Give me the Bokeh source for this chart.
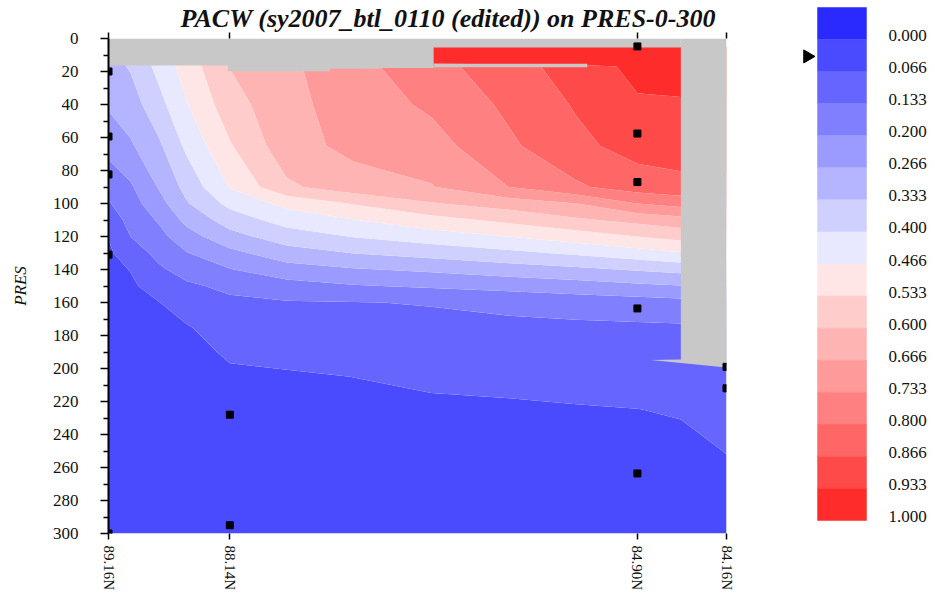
import math
import numpy as np
from bokeh.plotting import figure
from bokeh.models import Range1d, FixedTicker, LinearAxis, CustomLabelingPolicy
from bokeh.layouts import row
from bokeh.embed import file_html
from bokeh.resources import INLINE
from bokeh.core.properties import value

TITLE = "PACW (sy2007_btl_0110 (edited)) on PRES-0-300"

# stations along the section (distance in km from 89.16N)
station_names = ["89.16N", "88.14N", "84.90N", "84.16N"]
station_km = [0, 109, 475, 555]

# gridded PACW field (fraction), rows = pressure, columns = distance
grid_km = [0, 20, 45, 70, 109, 160, 220, 290, 360, 420, 475, 514, 555]
grid_pres = [5, 15, 17, 40, 65, 90, 100, 110, 120, 130, 140, 150, 160, 175, 190, 205, 225, 250, 300]

pacw_p005 = [0.307, 0.340, 0.420, 0.496, 0.602, 0.653, 0.711, 0.967, 0.967, 0.967, 0.973, 0.973, 0.973]
pacw_p015 = [0.307, 0.340, 0.420, 0.496, 0.602, 0.653, 0.711, 0.967, 0.967, 0.967, 0.973, 0.973, 0.973]
pacw_p017 = [0.307, 0.340, 0.420, 0.496, 0.602, 0.653, 0.711, 0.776, 0.841, 0.895, 0.953, 0.967, 0.967]
pacw_p040 = [0.275, 0.303, 0.377, 0.463, 0.572, 0.647, 0.697, 0.745, 0.814, 0.873, 0.925, 0.925, 0.925]
pacw_p065 = [0.222, 0.259, 0.321, 0.414, 0.527, 0.640, 0.685, 0.707, 0.789, 0.850, 0.893, 0.895, 0.895]
pacw_p090 = [0.156, 0.192, 0.271, 0.355, 0.471, 0.588, 0.637, 0.663, 0.734, 0.790, 0.833, 0.849, 0.849]
pacw_p100 = [0.128, 0.173, 0.241, 0.327, 0.419, 0.485, 0.538, 0.595, 0.632, 0.666, 0.734, 0.757, 0.757]
pacw_p110 = [0.098, 0.153, 0.207, 0.284, 0.365, 0.427, 0.465, 0.509, 0.549, 0.589, 0.620, 0.643, 0.643]
pacw_p120 = [0.069, 0.134, 0.179, 0.240, 0.310, 0.368, 0.403, 0.435, 0.468, 0.500, 0.534, 0.555, 0.555]
pacw_p130 = [0.057, 0.101, 0.151, 0.197, 0.249, 0.304, 0.335, 0.359, 0.385, 0.411, 0.440, 0.463, 0.463]
pacw_p140 = [0.050, 0.069, 0.123, 0.157, 0.197, 0.239, 0.261, 0.278, 0.301, 0.319, 0.340, 0.353, 0.353]
pacw_p150 = [0.045, 0.057, 0.093, 0.123, 0.147, 0.175, 0.195, 0.209, 0.223, 0.237, 0.253, 0.264, 0.264]
pacw_p160 = [0.041, 0.050, 0.065, 0.097, 0.121, 0.128, 0.131, 0.137, 0.151, 0.162, 0.171, 0.179, 0.179]
pacw_p175 = [0.037, 0.043, 0.053, 0.062, 0.097, 0.105, 0.110, 0.115, 0.118, 0.121, 0.123, 0.125, 0.127]
pacw_p190 = [0.033, 0.039, 0.045, 0.052, 0.073, 0.081, 0.088, 0.095, 0.100, 0.103, 0.105, 0.109, 0.123]
pacw_p205 = [0.032, 0.035, 0.040, 0.045, 0.059, 0.061, 0.067, 0.076, 0.081, 0.085, 0.089, 0.093, 0.113]
pacw_p225 = [0.030, 0.032, 0.035, 0.038, 0.048, 0.050, 0.052, 0.057, 0.059, 0.063, 0.066, 0.071, 0.097]
pacw_p250 = [0.029, 0.030, 0.031, 0.033, 0.040, 0.041, 0.043, 0.047, 0.047, 0.048, 0.048, 0.053, 0.068]
pacw_p300 = [0.027, 0.027, 0.028, 0.029, 0.030, 0.031, 0.032, 0.033, 0.033, 0.033, 0.033, 0.033, 0.040]

pacw_rows = [pacw_p005, pacw_p015, pacw_p017, pacw_p040, pacw_p065, pacw_p090, pacw_p100,
             pacw_p110, pacw_p120, pacw_p130, pacw_p140, pacw_p150, pacw_p160, pacw_p175,
             pacw_p190, pacw_p205, pacw_p225, pacw_p250, pacw_p300]

# regions without data (grey)
mask_top_km = [0, 107, 107, 199, 199, 244, 244, 292, 292, 514]
mask_top_pres = [16.4, 16.4, 19.8, 19.8, 18.4, 18.4, 17.9, 17.9, 5.5, 5.5]
mask_right_km = [514, 555, 555, 487, 514]
mask_right_pres = [0, 0, 199.4, 194.8, 194.5]
gap_km = [292, 430]
gap_pres = [15.3, 17.4]

# bottle sample positions
sample_km = [0, 0, 0, 0, 0, 109, 109, 475, 475, 475, 475, 475, 555, 555]
sample_pres = [20, 59.4, 82.4, 131, 300, 228, 295, 4.8, 57.6, 87, 163.6, 263.6, 199, 212]

# colour scale
levels = [-0.0667, 0.0, 0.0667, 0.1333, 0.2, 0.2667, 0.3333, 0.4, 0.4667, 0.5333,
          0.6, 0.6667, 0.7333, 0.8, 0.8667, 0.9333, 1.0]
level_labels = ["0.000", "0.066", "0.133", "0.200", "0.266", "0.333", "0.400", "0.466",
                "0.533", "0.600", "0.666", "0.733", "0.800", "0.866", "0.933", "1.000"]
palette = ["#2a2aff", "#4a4aff", "#6666ff", "#8080ff", "#9a9aff", "#b4b4ff", "#d0d0ff", "#e8e8ff",
           "#ffe6e6", "#ffcccc", "#ffb4b4", "#ff9a9a", "#ff8080", "#ff6666", "#ff4a4a", "#ff2c2c"]
marker_value = 0.035

pres_ticks = [0, 20, 40, 60, 80, 100, 120, 140, 160, 180, 200, 220, 240, 260, 280, 300]
pres_minor = [10, 30, 50, 70, 90, 110, 130, 150, 170, 190, 210, 230, 250, 270, 290]

GREY = "#c8c8c8"
SERIF = "Liberation Serif"
INK = "#111111"

p = figure(frame_width=618, frame_height=495,
           x_range=Range1d(0, 555), y_range=Range1d(300, 0),
           min_border_left=108, min_border_right=64, min_border_top=38, min_border_bottom=62,
           toolbar_location=None, output_backend="svg")
p.outline_line_color = None
p.grid.visible = False

z = np.array(pacw_rows)
cr = p.contour(x=grid_km, y=grid_pres, z=z, levels=levels, fill_color=palette, line_color=None)
fg = cr.fill_renderer.glyph
fg.line_color = fg.fill_color
fg.line_width = 0.8

p.varea(x=mask_top_km, y1=0, y2=mask_top_pres, fill_color=GREY)
p.patch(x=mask_right_km, y=mask_right_pres, fill_color=GREY, line_color=None)
p.quad(left=[gap_km[0]], right=[gap_km[1]], top=[gap_pres[0]], bottom=[gap_pres[1]],
       fill_color=GREY, line_color=None)

p.scatter(x=sample_km, y=sample_pres, marker="square", size=7, color="black")

# title
p.title.text = TITLE
p.title.text_font = SERIF
p.title.text_font_style = "bold italic"
p.title.text_font_size = "26px"
p.title.align = "left"
p.title.offset = 72
p.title.standoff = 0
p.title.text_color = INK

# y axis
ya = p.yaxis[0]
ya.ticker = FixedTicker(ticks=pres_ticks, minor_ticks=pres_minor)
ya.axis_line_width = 2
ya.axis_line_color = "black"
ya.major_tick_out = 8
ya.major_tick_in = 0
ya.minor_tick_out = 5
ya.minor_tick_in = 0
ya.major_tick_line_width = 1.5
ya.minor_tick_line_width = 1.5
ya.major_label_standoff = 22
ya.major_label_text_font = SERIF
ya.major_label_text_font_size = "17px"
ya.major_label_text_color = INK
ya.axis_label = "PRES"
ya.axis_label_text_font = SERIF
ya.axis_label_text_font_style = "italic"
ya.axis_label_text_font_size = "17px"
ya.axis_label_standoff = 20
ya.axis_label_text_color = INK

# x axis (bottom)
xa = p.xaxis[0]
xa.ticker = FixedTicker(ticks=station_km, minor_ticks=[])
xa.major_label_overrides = {k: n for k, n in zip(station_km, station_names)}
xa.major_label_orientation = -math.pi / 2
xa.axis_line_color = None
xa.major_tick_out = 6
xa.major_tick_in = 0
xa.major_tick_line_width = 1.5
xa.major_label_standoff = 6
xa.major_label_text_font = SERIF
xa.major_label_text_font_size = "15px"
xa.major_label_text_color = INK

# tick marks along the top edge (no labels)
top = LinearAxis(ticker=FixedTicker(ticks=station_km, minor_ticks=[]))
top.axis_line_color = None
top.major_tick_out = 6
top.major_tick_in = 0
top.major_tick_line_width = 1.5
top.major_label_standoff = 0
top.major_label_text_font_size = "0px"
top.major_label_policy = CustomLabelingPolicy(code="return new Set()")
p.add_layout(top, "above")

# colour bar panel
ppu = 513 / (levels[-1] - levels[0])
cb = figure(width=145, height=595, x_range=Range1d(0, 145),
            y_range=Range1d(levels[-1] + 75 / ppu, levels[0] - 7 / ppu),
            min_border=0, toolbar_location=None, output_backend="svg",
            x_axis_location=None, y_axis_location=None)
if "frame_align" in cb.properties():
    cb.frame_align = False
    p.frame_align = False
if cb.title is not None:
    cb.title.visible = False
cb.outline_line_color = None
cb.grid.visible = False
cb.quad(left=27, right=76, top=levels[:-1], bottom=levels[1:], fill_color=palette,
        line_color=palette, line_width=0.5)
cb.text(x=98, y=levels[1:], text=level_labels, text_baseline="middle", y_offset=-4,
        text_font=value(SERIF), text_font_size="17px", text_color=INK)
cb.scatter(x=[17], y=[marker_value], marker="triangle", size=13, angle=-math.pi / 2,
           color="black")

layout = row(p, cb)
open("out.html", "w").write(file_html(layout, INLINE))
